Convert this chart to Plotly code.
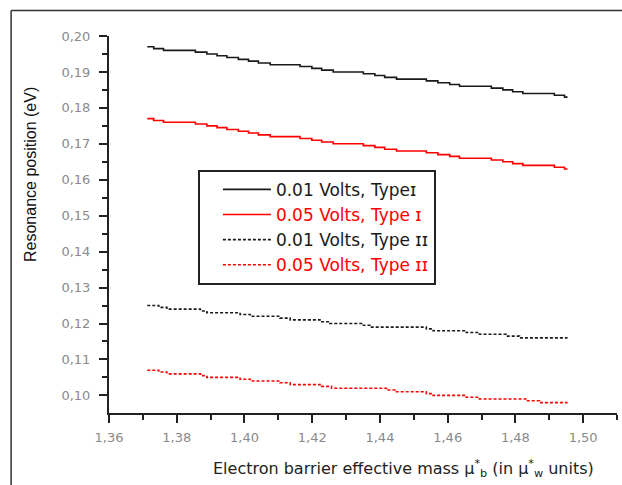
import plotly.graph_objects as go

# ---- data ----
x_solid = [1.3713, 1.3732, 1.3761, 1.3855, 1.3889, 1.3919, 1.3948, 1.3982, 1.4012, 1.4041,
           1.4076, 1.4164, 1.4199, 1.4228, 1.4262, 1.4351, 1.4385, 1.4414, 1.4449, 1.4537,
           1.4571, 1.4606, 1.4635, 1.4729, 1.4763, 1.4792, 1.4822, 1.4915, 1.4945, 1.4954]
y_001_type1 = [0.197, 0.1965, 0.196, 0.1955, 0.195, 0.1945, 0.194, 0.1935, 0.193, 0.1925,
               0.192, 0.1915, 0.191, 0.1905, 0.190, 0.1895, 0.189, 0.1885, 0.188, 0.1875,
               0.187, 0.1865, 0.186, 0.1855, 0.185, 0.1845, 0.184, 0.1835, 0.183, 0.183]
y_005_type1 = [0.177, 0.1765, 0.176, 0.1755, 0.175, 0.1745, 0.174, 0.1735, 0.173, 0.1725,
               0.172, 0.1715, 0.171, 0.1705, 0.170, 0.1695, 0.169, 0.1685, 0.168, 0.1675,
               0.167, 0.1665, 0.166, 0.1655, 0.165, 0.1645, 0.164, 0.1635, 0.163, 0.163]

x_001_type2 = [1.3713, 1.3747, 1.3771, 1.3870, 1.3889, 1.3987, 1.4017, 1.4105, 1.4135, 1.4223,
               1.4252, 1.4351, 1.4370, 1.4537, 1.4557, 1.4655, 1.4694, 1.4773, 1.4812, 1.4954]
y_001_type2 = [0.125, 0.1245, 0.124, 0.1235, 0.123, 0.1225, 0.122, 0.1215, 0.121, 0.1205,
               0.120, 0.1195, 0.119, 0.1185, 0.118, 0.1175, 0.117, 0.1165, 0.116, 0.116]

x_005_type2 = [1.3713, 1.3747, 1.3771, 1.3870, 1.3889, 1.3987, 1.4017, 1.4105, 1.4135, 1.4228,
               1.4257, 1.4419, 1.4444, 1.4537, 1.4557, 1.4655, 1.4694, 1.4831, 1.4871, 1.4954]
y_005_type2 = [0.107, 0.1065, 0.106, 0.1055, 0.105, 0.1045, 0.104, 0.1035, 0.103, 0.1025,
               0.102, 0.1015, 0.101, 0.1005, 0.100, 0.0995, 0.099, 0.0985, 0.098, 0.098]

names = ["0.01 Volts, Typeɪ", "0.05 Volts, Type ɪ", "0.01 Volts, Type ɪɪ", "0.05 Volts, Type ɪɪ"]

BLACK = "#1a1a1a"
RED = "#ff0000"
FONT = "Liberation Sans, Arial, sans-serif"
WIDE = "DejaVu Sans, sans-serif"

fig = go.Figure()
series = [
    (x_solid, y_001_type1, BLACK, "solid", names[0]),
    (x_solid, y_005_type1, RED, "solid", names[1]),
    (x_001_type2, y_001_type2, BLACK, "3px,2px", names[2]),
    (x_005_type2, y_005_type2, RED, "3px,2px", names[3]),
]
for xs, ys, col, dash, nm in series:
    fig.add_trace(go.Scatter(
        x=xs, y=ys, mode="lines", line=dict(color=col, width=1.6, dash=dash, shape="hv"),
        name=f"<span style='color:{col}'>{nm}</span>",
    ))

axis_common = dict(
    showgrid=False, zeroline=False, showline=True, linecolor="#222", linewidth=2,
    ticks="outside", ticklen=8, tickwidth=2, tickcolor="#222",
    tickfont=dict(family=WIDE, size=13, color="#8a8a8a"),
    tickformat=".2f", mirror=False,
)
fig.update_xaxes(range=[1.36, 1.51], dtick=0.02, tick0=1.36, ticklabelstandoff=3,
                 minor=dict(dtick=0.01, ticklen=5, tickwidth=2, tickcolor="#222", ticks="outside"),
                 **axis_common)
fig.update_yaxes(range=[0.0951, 0.2], dtick=0.01, tick0=0.10, ticklabelstandoff=6,
                 minor=dict(dtick=0.005, ticklen=5, tickwidth=2, tickcolor="#222", ticks="outside"),
                 **axis_common)

fig.update_layout(
    width=622, height=485,
    margin=dict(l=109, r=4.5, t=36, b=71.5),
    paper_bgcolor="white", plot_bgcolor="white",
    separators=", ",
    showlegend=True,
    legend=dict(
        x=0.175, y=0.645, xanchor="left", yanchor="top",
        bgcolor="white", bordercolor="#222", borderwidth=2,
        font=dict(family=WIDE, size=17, color=BLACK),
        indentation=18, itemwidth=48,
    ),
    annotations=[
        dict(text="Resonance position (eV)", xref="paper", yref="paper",
             x=-0.155, y=0.632, textangle=-90, showarrow=False,
             font=dict(family=FONT, size=16, color="#111"), xanchor="center", yanchor="middle"),
        dict(text="Electron barrier effective mass μ<sup>*</sup><sub>b</sub> (in μ<sup>*</sup><sub>w</sub> units)",
             xref="paper", yref="paper", x=0.579, y=-0.148, showarrow=False,
             font=dict(family=WIDE, size=16, color="#222"), xanchor="center", yanchor="middle"),
    ],
    shapes=[
        dict(type="line", xref="paper", yref="paper", x0=-0.1927, x1=1.05, y0=1.0675, y1=1.0675,
             line=dict(color="#333", width=1.5)),
        dict(type="line", xref="paper", yref="paper", x0=-0.1927, x1=-0.1927, y0=1.0675, y1=-0.3,
             line=dict(color="#333", width=1.5)),
    ],
)

fig.write_html("out.html", config={"displayModeBar": False},
               post_script="document.body.style.margin='0px';")
